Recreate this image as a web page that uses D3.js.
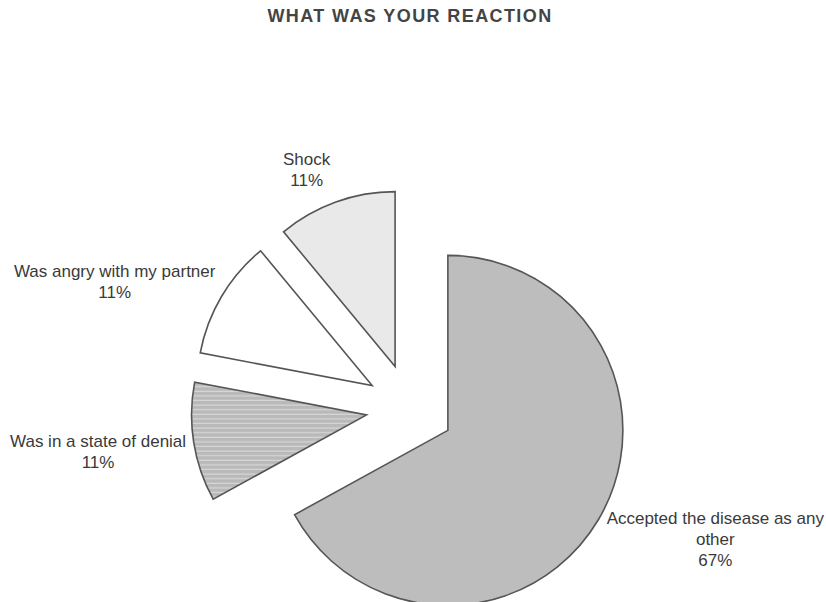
<!DOCTYPE html>
<html>
<head>
<meta charset="utf-8">
<script src="https://cdn.jsdelivr.net/npm/d3@7"></script>
<style>
  html, body { margin: 0; padding: 0; background: #fff; }
  svg { display: block; }
  text { font-family: "Liberation Sans", Arial, sans-serif; fill: #3a3a3a; }
</style>
</head>
<body>
<svg id="chart" width="826" height="602"></svg>
<script>
// Responses, in the order the slices run clockwise from 12 o'clock
const categories = [
  ["Accepted the disease as any", "other"],
  ["Was in a state of denial"],
  ["Was angry with my partner"],
  ["Shock"]
];
const values = [67, 11, 11, 11];
const fills = ["#bdbdbd", "url(#stripes)", "#ffffff", "#e9e9e9"];

const width = 826, height = 602;
const cx = 410, cy = 408, radius = 175, explode = 44;

const svg = d3.select("#chart");

// horizontal line shading for the denial slice
const defs = svg.append("defs");
const pat = defs.append("pattern")
  .attr("id", "stripes")
  .attr("patternUnits", "userSpaceOnUse")
  .attr("width", 8).attr("height", 4.6);
pat.append("rect").attr("width", 8).attr("height", 4.6).attr("fill", "#b9b9b9");
pat.append("rect").attr("y", 3.4).attr("width", 8).attr("height", 1.2).attr("fill", "#d8d8d8");

svg.append("text")
  .attr("x", 410).attr("y", 22)
  .attr("text-anchor", "middle")
  .attr("font-size", 18)
  .attr("font-weight", "bold")
  .attr("letter-spacing", 1.4)
  .style("fill", "#444")
  .text("WHAT WAS YOUR REACTION");

const pie = d3.pie().sort(null).value(d => d)(values);
const arc = d3.arc().innerRadius(0).outerRadius(radius);

const g = svg.append("g").attr("transform", `translate(${cx},${cy})`);

const dir = a => [Math.sin(a), -Math.cos(a)];
const mid = d => (d.startAngle + d.endAngle) / 2;

g.selectAll("path.slice")
  .data(pie)
  .join("path")
  .attr("class", "slice")
  .attr("transform", d => {
    const [ux, uy] = dir(mid(d));
    return `translate(${ux * explode},${uy * explode})`;
  })
  .attr("d", arc)
  .attr("fill", (d, i) => fills[i])
  .attr("stroke", "#555")
  .attr("stroke-width", 1.6)
  .attr("stroke-linejoin", "miter");

// labels sit outside each slice, pulled sideways so the text box clears the pie
const labelRadius = radius + explode + 30;
const nudge = [[91, 5], [-66, 6], [-81, 1], [-19, -3]];
const lineH = 21;

const labels = svg.append("g").attr("font-size", 17);
pie.forEach((d, i) => {
  const [ux, uy] = dir(mid(d));
  const x = cx + ux * labelRadius + nudge[i][0];
  const y = cy + uy * labelRadius + nudge[i][1];
  const lines = categories[i].concat([d3.format(".0f")(d.value) + "%"]);
  const t = labels.append("text")
    .attr("text-anchor", "middle")
    .attr("x", x)
    .attr("y", y - (lines.length - 1) * lineH / 2 + 5);
  lines.forEach((s, k) => {
    t.append("tspan").attr("x", x).attr("dy", k === 0 ? 0 : lineH).text(s);
  });
});
</script>
</body>
</html>
